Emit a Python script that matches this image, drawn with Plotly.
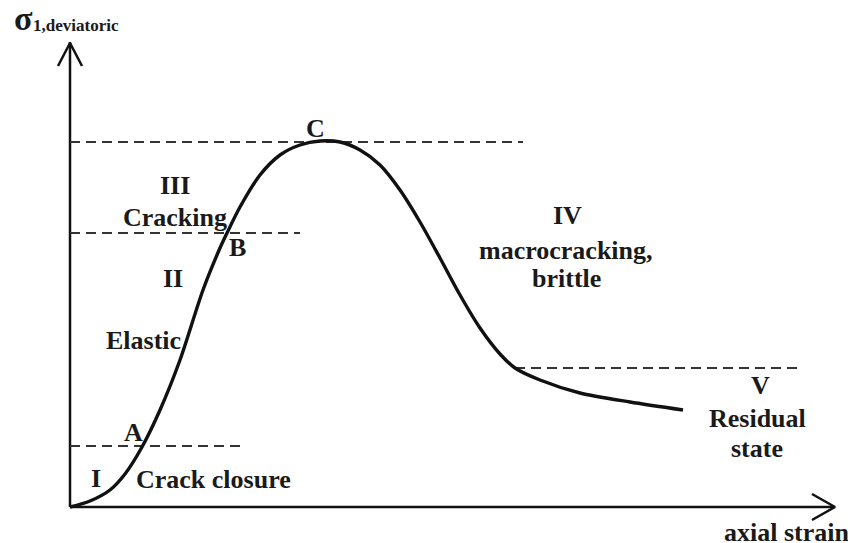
import plotly.graph_objects as go

# Schematic stress-strain curve (units: arbitrary, origin at axis crossing)
strain = [0, 20, 40, 55, 72, 90, 110, 133, 150, 157, 170, 190, 210, 230, 250, 270, 290,
          310, 330, 350, 370, 390, 410, 430, 445, 470, 510, 560, 613]
stress = [0, 6, 17, 33, 60, 97, 147, 217, 259, 274, 300, 332, 352, 362, 366, 365, 357,
          342, 317, 285, 249, 212, 179, 153, 139, 127, 114, 105, 97]

# Threshold levels (dashed lines): [stress, x_start, x_end]
lvl_A = [61, 0, 175]
lvl_B = [274, 0, 230]
lvl_C = [365, 0, 453]
lvl_res = [139, 445, 727]

labels = ["C", "III", "Cracking", "B", "II", "Elastic", "A", "I", "Crack closure",
          "IV", "macrocracking,", "brittle", "V", "Residual", "state"]
lab_x = [245, 105, 105, 167, 103, 73, 63, 26, 143, 497, 496, 496, 690, 687, 687]
lab_y = [379, 322, 290, 260, 229, 167, 75, 29, 28, 292, 257, 229, 122, 89, 59]

OFF = 8  # page body margin compensation

fig = go.Figure()

font_family = "Liberation Serif, Times New Roman, serif"

# axes
fig.add_trace(go.Scatter(x=[0, 0], y=[0, 465], mode="lines",
                         line=dict(color="#111", width=2.5), hoverinfo="skip"))
fig.add_trace(go.Scatter(x=[-12, 0, 12], y=[441, 464, 441], mode="lines",
                         line=dict(color="#111", width=2.5), hoverinfo="skip"))
fig.add_trace(go.Scatter(x=[0, 764], y=[0, 0], mode="lines",
                         line=dict(color="#111", width=2.5), hoverinfo="skip"))
fig.add_trace(go.Scatter(x=[742, 765, 742], y=[13, 0, -13], mode="lines",
                         line=dict(color="#111", width=2.5), hoverinfo="skip"))

# dashed thresholds
for lv in [lvl_A, lvl_B, lvl_C, lvl_res]:
    fig.add_trace(go.Scatter(x=[lv[1], lv[2]], y=[lv[0], lv[0]], mode="lines",
                             line=dict(color="#333", width=2, dash="10px,6px"),
                             hoverinfo="skip"))

# curve
fig.add_trace(go.Scatter(x=strain, y=stress, mode="lines",
                         line=dict(color="#111", width=3.4, shape="spline", smoothing=0.8),
                         hoverinfo="skip"))

for t, x, y in zip(labels, lab_x, lab_y):
    fig.add_annotation(x=x, y=y, text="<b>" + t + "</b>", showarrow=False,
                       font=dict(family=font_family, size=26, color="#1a1a1a"),
                       xanchor="center", yanchor="middle")

fig.add_annotation(x=716, y=-25, text="<b>axial strain</b>", showarrow=False,
                   font=dict(family=font_family, size=26, color="#1a1a1a"),
                   xanchor="center", yanchor="middle")

# y-axis title: sigma with subscript
fig.add_annotation(xref="paper", yref="paper", x=(12 - OFF) / 856, y=1 - (19 - OFF) / 543,
                   text="<b>σ</b>", showarrow=False, xanchor="left", yanchor="middle",
                   font=dict(family=font_family, size=34, color="#1a1a1a"))
fig.add_annotation(xref="paper", yref="paper", x=(31 - OFF) / 856, y=1 - (25 - OFF) / 543,
                   text="<b>1,deviatoric</b>", showarrow=False, xanchor="left", yanchor="middle",
                   font=dict(family=font_family, size=17, color="#1a1a1a"))

fig.update_layout(
    width=856, height=543, margin=dict(l=0, r=0, t=0, b=0),
    paper_bgcolor="white", plot_bgcolor="white", showlegend=False,
    xaxis=dict(range=[-70 + OFF, 786 + OFF], visible=False, fixedrange=True),
    yaxis=dict(range=[-36 - OFF, 507 - OFF], visible=False, fixedrange=True),
)

fig.write_html("out.html")
